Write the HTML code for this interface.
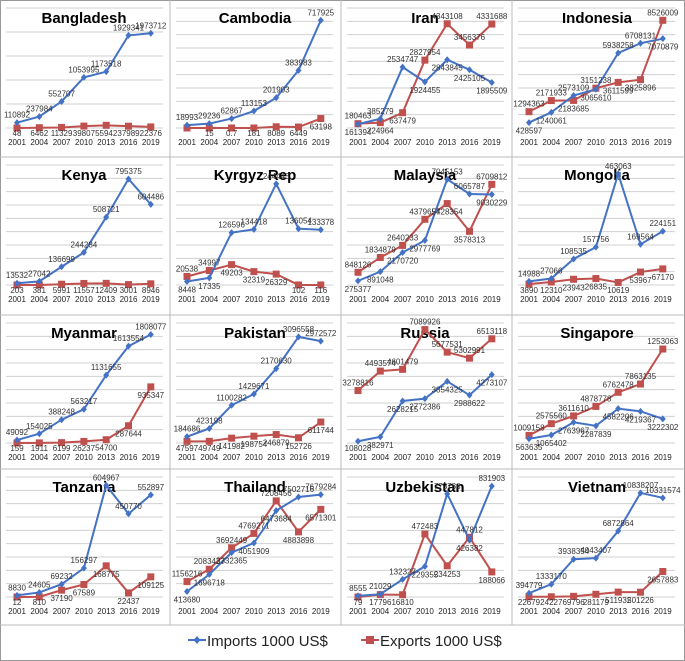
<!DOCTYPE html>
<html><head><meta charset="utf-8"><style>
body{margin:0;background:#fff}
svg{display:block;font-family:"Liberation Sans",sans-serif}
</style></head><body>
<svg id="chart" width="685" height="661" viewBox="0 0 685 661"></svg>
<script>
const years = ['2001','2004','2007','2010','2013','2016','2019'];
const countryNames = ['Bangladesh','Cambodia','Iran','Indonesia','Kenya','Kyrgyz Rep','Malaysia','Mongolia','Myanmar','Pakistan','Russia','Singapore','Tanzania','Thailand','Uzbekistan','Vietnam'];
const bangladeshImports = [110892,237984,552707,1053995,1173518,1929341,1973712];
const bangladeshExports = [48,6462,11329,39807,55942,37989,22376];
const cambodiaImports = [18993,29236,62867,113153,201903,383983,717925];
const cambodiaExports = [0,15,0.7,181,8089,6449,63198];
const iranImports = [161394,385279,2534747,1924455,2843845,2425105,1895509];
const iranExports = [180463,224964,637479,2827954,4343108,3456376,4331688];
const indonesiaImports = [428597,1240061,2573109,3065610,5938258,6708131,7070879];
const indonesiaExports = [1294363,2171933,2183685,3151238,3611599,3825896,8526009];
const kenyaImports = [13532,27042,136699,244284,508721,795375,604486];
const kenyaExports = [203,381,5991,11557,12409,3001,8946];
const kyrgyzImports = [8448,17335,126596,134418,244443,136054,133378];
const kyrgyzExports = [20538,34997,49203,32319,26329,102,116];
const malaysiaImports = [275377,891048,2170720,2977769,7045153,6065787,6030229];
const malaysiaExports = [848126,1834879,2640233,4379657,5428354,3578313,6709812];
const mongoliaImports = [14988,27066,108535,157756,463063,169564,224151];
const mongoliaExports = [3890,12310,23943,26835,10619,53967,67170];
const myanmarImports = [49092,154025,388248,563217,1131655,1613554,1808077];
const myanmarExports = [159,1911,6199,26237,54700,287644,935347];
const pakistanImports = [184686,423198,1100282,1429671,2170630,3096558,2972572];
const pakistanExports = [47597,49749,141982,198754,246879,152726,611744];
const russiaImports = [108028,382971,2628215,2772386,3854325,2988622,4273107];
const russiaExports = [3278816,4493574,4601479,7089926,5677531,5302991,6513118];
const singaporeImports = [563635,1065402,2763967,2287839,4582206,4219367,3222302];
const singaporeExports = [1009158,2575560,3611610,4878778,6762478,7863135,12530630];
const tanzaniaImports = [8830,24605,69232,156297,604967,450770,552897];
const tanzaniaExports = [12,810,37190,67589,168775,22437,109125];
const thailandImports = [413680,1696718,3332365,4051909,6473684,7502716,7679284];
const thailandExports = [1156216,2083427,3692449,4769271,7208456,4883898,6571301];
const uzbekistanImports = [8555,21029,132327,229355,773786,426382,831903];
const uzbekistanExports = [79,17796,16810,472483,234253,447812,188066];
const vietnamImports = [394779,1333170,3938354,4043407,6872864,10838207,10331574];
const vietnamExports = [22679,24227,69796,281179,511932,501226,2657883];
const yMaxima = [2500000,800000,5000000,9500000,900000,290000,8000000,500000,2000000,3500000,7500000,16000000,650000,9000000,900000,12500000];
const labelOverrides = {'Malaysia-imp-6':'9030229','Singapore-exp-6':'1253063','Cambodia-exp-0':''};

const allImports=[bangladeshImports,cambodiaImports,iranImports,indonesiaImports,kenyaImports,kyrgyzImports,malaysiaImports,mongoliaImports,myanmarImports,pakistanImports,russiaImports,singaporeImports,tanzaniaImports,thailandImports,uzbekistanImports,vietnamImports];
const allExports=[bangladeshExports,cambodiaExports,iranExports,indonesiaExports,kenyaExports,kyrgyzExports,malaysiaExports,mongoliaExports,myanmarExports,pakistanExports,russiaExports,singaporeExports,tanzaniaExports,thailandExports,uzbekistanExports,vietnamExports];

const NS='http://www.w3.org/2000/svg';
const svg=document.getElementById('chart');
function mk(tag,attrs,parent){const e=document.createElementNS(NS,tag);for(const k in attrs)e.setAttribute(k,attrs[k]);(parent||svg).appendChild(e);return e;}
const colX=[0,170,341,512], rowY=[0,157,315,469];
const titleCX=[84,255,425,597];
const BLUE='#4472C4', RED='#C0504D';

// frame
let fr=mk('rect',{x:0.5,y:0.5,width:684,height:660,fill:'none',stroke:'#999'});



countryNames.forEach((name,p)=>{
  const c=p%4, r=Math.floor(p/4);
  const ox=colX[c], oy=rowY[r];
  const key=name.toLowerCase().replace(/[^a-z]/g,'-');
  const g=mk('g',{});
  
  
  const base=oy+128, top=oy+8, ymax=yMaxima[p];
  const yS=v=>base-(v/ymax)*(base-top);
  const xS=i=>ox+17+i*22.3;
  const nGrid=(p===0)?6:10;
  for(let k=0;k<nGrid;k++){
    const gy=base-k*(base-top)/(nGrid-1);
    const l=mk('line',{x1:ox+6,x2:ox+163,y1:gy,y2:gy,stroke:'#d0d0d0','stroke-width':1},g);
    
    
  }
  const t=mk('text',{x:titleCX[c],y:oy+23,'text-anchor':'middle','font-size':15,'font-weight':'bold',fill:'#000'},g);
  t.textContent=name;
  
  
  years.forEach((yr,i)=>{
    const tx=mk('text',{x:xS(i),y:oy+145,'text-anchor':'middle','font-size':8,fill:'#222'},g);
    tx.textContent=yr;
    
    
  });
  const imp=allImports[p], exp=allExports[p];
  [[exp,RED,'exports'],[imp,BLUE,'imports']].forEach(([arr,col,nm])=>{
    const pts=arr.map((v,i)=>xS(i)+','+yS(v)).join(' ');
    const pl=mk('polyline',{points:pts,fill:'none',stroke:col,'stroke-width':2},g);
    
    
    arr.forEach((v,i)=>{
      const x=xS(i), y=yS(v);
      let m;
      if(nm==='exports') m=mk('rect',{x:x-3.5,y:y-3.5,width:7,height:7,fill:col},g);
      else m=mk('polygon',{points:`${x},${y-3.5} ${x+3},${y} ${x},${y+3.5} ${x-3},${y}`,fill:col},g);
      
      
    });
  });
  years.forEach((yr,i)=>{
    const x=xS(i);
    const yi=yS(imp[i]), ye=yS(exp[i]);
    const impHigher=yi<=ye;
    [[imp,'imp',yi,impHigher],[exp,'exp',ye,!impHigher]].forEach(([arr,tag,y,higher])=>{
      const k=name+'-'+tag+'-'+i;
      const s=(k in labelOverrides)?labelOverrides[k]:String(arr[i]);
      if(!s)return;
      let lx=Math.min(Math.max(x,ox+16),ox+152);
      const ly=higher?y-5:y+11;
      const lt=mk('text',{x:lx,y:Math.min(ly,oy+136),'text-anchor':'middle','font-size':8,fill:'#333'},g);
      lt.textContent=s;
      
      
    });
  });
});
// dividers
[170,341,512].forEach(x=>{
  const l=mk('line',{x1:x,x2:x,y1:0,y2:625,stroke:'#bbb'});
  
  
});
[157,315,469,625].forEach(y=>{
  const l=mk('line',{x1:0,x2:685,y1:y,y2:y,stroke:'#bbb'});
  
  
});
// legend
const lg=mk('g',{});


const l1=mk('line',{x1:188,x2:206,y1:640,y2:640,stroke:BLUE,'stroke-width':2},lg);


const d1=mk('polygon',{points:'197,636 200.5,640 197,644 193.5,640',fill:BLUE},lg);


const t1=mk('text',{x:207,y:646,'font-size':15,fill:'#222'},lg);
t1.textContent='Imports 1000 US$';


const l2=mk('line',{x1:361,x2:379,y1:640,y2:640,stroke:RED,'stroke-width':2},lg);


const d2=mk('rect',{x:366,y:636,width:8,height:8,fill:RED},lg);


const t2=mk('text',{x:380,y:646,'font-size':15,fill:'#222'},lg);
t2.textContent='Exports 1000 US$';


</script>
</body></html>
